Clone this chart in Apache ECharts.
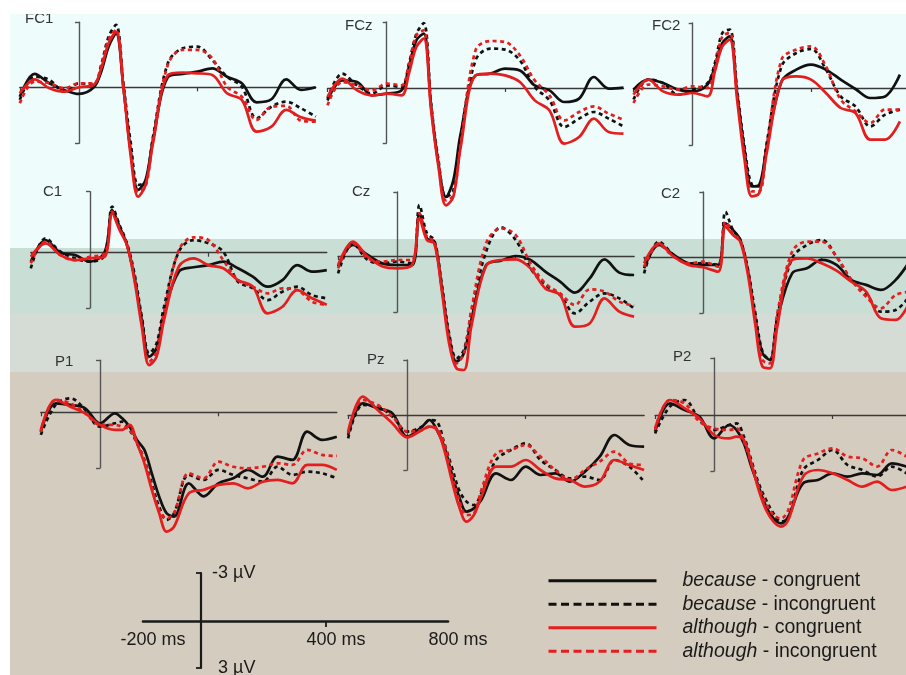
<!DOCTYPE html>
<html><head><meta charset="utf-8">
<script src="https://cdn.jsdelivr.net/npm/echarts@6/dist/echarts.min.js"></script>
<style>
html,body{margin:0;padding:0;background:#fff;}
#wrap{position:relative;width:906px;height:675px;overflow:hidden;background:#fff;}
.bg,.mask{position:absolute;}
#chart{position:absolute;left:0;top:0;width:906px;height:675px;}
</style></head>
<body>
<div id="wrap">
  <div class="bg" style="left:10px;top:14px;width:896px;height:240px;background:#eefcfb"></div>
  <div class="bg" style="left:128px;top:239px;width:778px;height:76px;background:#c9ded5"></div>
  <div class="bg" style="left:10px;top:248px;width:118px;height:67px;background:#c9ded5"></div>
  <div class="bg" style="left:10px;top:314px;width:896px;height:58px;background:#d5dcd6"></div>
  <div class="bg" style="left:10px;top:372px;width:896px;height:303px;background:#d4ccbf"></div>
  <div id="chart"></div>
  <div class="mask" style="left:0;top:0;width:906px;height:14px;background:#fff"></div>
  <div class="mask" style="left:0;top:0;width:10px;height:675px;background:#fff"></div>
</div>
<script>
// ---- data (µV, negative plotted upward) ----
const times = [-200,-150,-100,-50,0,50,75,100,125,150,175,200,225,250,300,350,400,450,500,550,600,650,700,750,800];
const sites = ['FC1','FCz','FC2','C1','Cz','C2','P1','Pz','P2'];
const conditions = ['because - congruent','because - incongruent','although - congruent','although - incongruent'];

const FC1_bc = [0.47,-0.67,-0.2,0.13,0.33,0.0,-0.78,-2.03,-2.7,0.0,3.2,5.13,4.63,2.63,-0.5,-0.67,-0.78,-0.95,-0.53,-0.2,0.75,0.6,-0.4,0.13,0.0];
const FC1_bi = [0.63,-0.53,-0.37,0.22,-0.2,-0.12,-1.12,-2.53,-3.12,-0.2,2.8,4.88,4.72,2.47,-1.2,-1.95,-2.03,-1.37,-0.53,-0.03,1.55,0.97,0.72,1.05,1.47];
const FC1_ac = [0.3,-0.4,0.05,0.22,0.0,-0.12,-0.95,-2.2,-2.78,0.0,3.47,5.47,4.88,2.8,-0.6,-0.73,-0.7,-0.62,0.3,0.63,2.22,1.97,1.13,1.5,1.67];
const FC1_ai = [0.8,-0.28,-0.2,0.05,-0.2,-0.2,-1.03,-2.37,-2.87,0.0,3.3,5.22,4.97,2.63,-1.12,-1.87,-1.87,-1.45,-0.03,0.47,1.63,0.97,0.93,1.67,1.72];

const FCz_bc = [0.62,-0.38,-0.3,0.37,0.28,0.12,-1.05,-2.38,-2.72,0.9,3.78,5.45,4.62,2.28,-0.63,-0.72,-0.97,-0.88,-0.13,0.12,0.7,0.53,-0.55,0.03,-0.02];
const FCz_bi = [0.53,-0.72,-0.13,0.28,-0.13,-0.05,-1.22,-2.7,-3.25,0.78,3.62,5.45,5.12,2.45,-1.38,-1.97,-1.92,-1.38,-0.05,0.62,1.95,1.53,1.2,1.53,1.92];
const FCz_ac = [0.45,-0.47,0.12,0.37,0.28,0.37,-0.72,-2.05,-2.47,1.12,3.95,5.87,5.45,2.95,-0.63,-0.72,-0.63,-0.3,0.62,1.12,2.78,2.45,1.53,2.2,2.28];
const FCz_ai = [0.87,-0.3,-0.13,0.12,-0.22,-0.13,-1.13,-2.63,-2.88,0.95,3.78,5.62,5.37,2.78,-1.88,-2.35,-2.3,-1.63,-0.38,0.37,1.62,1.2,0.92,1.28,1.58];

const FC2_bc = [0.08,-0.42,-0.25,0.08,0.17,-0.17,-1.08,-2.25,-2.58,0.25,3.08,4.92,4.83,2.92,-0.33,-0.92,-1.17,-0.92,-0.42,0.05,0.5,0.42,-0.67,null,null];
const FC2_bi = [0.58,-0.42,-0.25,0.33,0.08,-0.25,-1.25,-2.75,-2.92,0.08,2.92,4.83,4.92,2.75,-1.08,-1.75,-1.95,-0.92,0.42,0.92,1.92,1.33,1.08,null,null];
const FC2_ac = [0.33,-0.42,0.17,0.33,0.25,0.42,-0.83,-2.08,-2.42,0.58,3.58,5.42,5.25,3.25,-0.33,-0.58,-0.42,0.25,1.0,1.25,2.58,2.58,1.67,null,null];
const FC2_ai = [0.75,-0.17,-0.08,0.08,-0.08,0.0,-1.08,-2.58,-2.75,0.33,3.25,5.17,5.17,2.92,-1.42,-1.92,-2.08,-1.08,0.58,1.17,1.75,1.08,1.08,null,null];

const C1_bc = [0.45,-0.63,0.0,0.12,0.45,-0.05,-2.13,-1.3,-0.38,1.2,3.37,5.2,4.78,3.03,0.95,0.73,0.62,0.45,0.78,1.2,1.7,1.37,0.62,0.95,0.87];
const C1_bi = [0.78,-0.72,-0.05,0.28,0.45,0.12,-2.3,-1.38,-0.47,1.03,3.2,5.03,4.53,2.7,-0.05,-0.63,-0.47,-0.05,1.45,1.78,2.37,1.95,1.7,2.12,2.28];
const C1_ac = [0.2,-0.47,0.12,0.37,0.28,0.2,-1.97,-1.13,-0.38,1.37,3.7,5.62,5.2,3.37,0.7,0.28,0.62,0.78,1.37,1.7,3.03,2.7,1.87,2.28,2.6];
const C1_ai = [0.53,-0.55,0.12,0.37,0.2,0.03,-2.05,-1.22,-0.38,1.28,3.53,5.45,4.95,3.03,-0.13,-0.77,-0.63,0.37,1.37,1.7,2.03,1.78,1.87,2.45,2.62];

const Cz_bc = [0.53,-0.55,-0.05,0.37,0.45,0.45,-2.13,-0.88,-0.72,1.53,4.03,5.28,4.87,3.2,0.45,0.23,0.0,0.2,0.78,1.28,1.83,1.12,0.17,0.83,0.95];
const Cz_bi = [0.87,-0.63,0.2,0.37,0.28,0.37,-2.55,-1.13,-0.8,1.37,3.87,5.12,4.7,2.87,-0.22,-1.43,-0.8,0.62,1.45,1.95,2.87,2.28,1.87,2.12,2.62];
const Cz_ac = [0.45,-0.72,0.03,0.53,0.62,0.45,-1.88,-0.8,-0.63,1.7,4.37,5.62,5.7,3.53,0.5,0.2,0.17,0.62,1.62,1.95,3.53,3.37,2.12,2.78,3.03];
const Cz_ai = [0.62,-0.63,0.12,0.28,0.2,0.2,-2.13,-0.97,-0.72,1.53,4.03,5.37,4.87,2.7,-0.63,-1.38,-1.05,0.37,1.37,1.87,2.45,1.67,1.78,2.28,2.5];

const C2_bc = [0.55,-0.62,-0.12,0.3,0.38,0.38,-1.7,-1.37,-0.87,0.63,2.97,4.8,5.13,3.13,0.8,0.55,0.13,0.38,1.13,1.38,1.63,1.13,0.13,null,null];
const C2_bi = [0.8,-0.78,-0.12,0.3,0.3,0.38,-2.28,-1.37,-0.87,0.55,2.72,4.72,5.13,2.97,0.05,-0.62,-0.87,-0.03,1.13,1.8,2.72,2.63,1.88,null,null];
const C2_ac = [0.3,-0.7,-0.03,0.38,0.5,0.72,-1.53,-1.12,-0.78,0.8,3.3,5.47,5.55,3.47,0.13,0.05,0.3,0.67,1.22,1.72,3.05,3.13,2.13,null,null];
const C2_ai = [0.47,-0.62,-0.03,0.3,0.22,0.47,-1.78,-1.2,-0.83,0.63,2.97,5.13,5.3,2.8,-0.28,-0.78,-0.78,-0.03,1.13,1.97,2.55,1.88,1.72,null,null];

const P1_bc = [0.97,-0.45,-0.37,-0.2,0.55,0.05,0.3,0.72,1.38,1.88,3.05,4.22,5.05,5.22,3.55,4.2,3.55,3.3,2.88,3.22,2.22,2.38,0.97,1.38,1.22];
const P1_bi = [1.13,-0.37,-0.7,-0.12,0.72,0.55,0.47,0.88,1.55,2.38,3.55,4.72,5.38,5.05,3.13,3.38,2.88,3.13,3.3,3.47,2.72,3.13,2.97,3.05,3.3];
const P1_ac = [0.88,-0.62,-0.28,0.05,0.63,0.88,0.88,0.63,1.55,2.55,3.88,5.05,5.97,5.72,4.05,3.88,3.63,3.55,3.8,3.47,3.38,3.55,2.63,2.63,2.88];
const P1_ai = [0.97,-0.62,-0.45,0.05,0.63,0.63,0.72,0.88,1.55,2.38,3.72,4.88,5.3,5.05,3.05,3.3,2.47,2.72,2.8,2.72,2.55,2.63,1.88,2.13,2.18];

const Pz_bc = [1.0,-0.58,-0.33,-0.08,1.08,0.58,0.25,0.75,1.58,2.92,4.08,4.83,4.67,4.25,2.92,3.25,2.58,3.0,2.92,3.33,2.83,2.08,1.0,1.5,1.58];
const Pz_bi = [1.17,-0.5,-0.42,0.08,0.83,0.58,0.25,0.33,1.42,2.58,3.75,4.33,4.5,3.92,2.25,1.75,1.42,2.25,2.75,3.17,3.08,3.25,2.25,2.58,3.33];
const Pz_ac = [0.83,-0.92,-0.25,0.42,1.12,0.75,0.58,0.75,1.75,3.25,4.58,5.33,5.0,4.08,2.58,2.58,2.25,2.75,3.17,3.25,3.58,3.33,2.25,2.5,2.75];
const Pz_ai = [0.92,-0.75,-0.5,0.08,0.83,0.75,0.58,0.67,1.42,2.92,4.25,5.0,4.92,3.75,1.92,1.75,1.5,2.08,2.75,3.25,2.75,2.33,1.83,2.42,2.5];

const P2_bc = [0.83,-0.58,-0.25,0.08,1.17,0.5,0.75,1.42,2.58,3.58,4.58,5.17,5.42,5.08,3.42,3.25,2.92,3.08,2.92,3.0,2.42,2.58,null,null,null];
const P2_bi = [0.92,-0.42,-0.75,0.25,0.75,0.5,0.42,1.08,2.25,3.42,4.25,4.92,5.33,5.17,2.75,2.25,1.75,2.5,2.75,3.08,2.58,2.92,null,null,null];
const P2_ac = [0.67,-0.75,-0.33,0.17,1.0,1.17,1.08,1.25,2.42,3.75,4.75,5.33,5.58,5.25,3.08,2.75,2.92,3.25,3.58,3.33,3.75,3.58,null,null,null];
const P2_ai = [0.75,-0.75,-0.58,0.33,0.67,0.75,0.67,1.33,2.42,3.58,4.42,5.0,5.17,4.75,2.25,1.92,1.67,2.08,2.17,2.58,1.75,2.08,null,null,null];

// scale bar ticks
const scaleTimeTicks = [-200, 400, 800];
const scaleVoltTicks = [-3, 3];

// ---- layout (pixels) ----
const PX_MS = 0.296, PX_UV = 20;
const layout = [
  {ax:79,    zy:87.3,  top:-3.25, bot:2.8,  lx:25,  ly:11},
  {ax:386.7, zy:88,    top:-3.3,  bot:2.75, lx:345, ly:18},
  {ax:692.7, zy:88,    top:-3.25, bot:2.85, lx:652, ly:18},
  {ax:90,    zy:252.7, top:-3.05, bot:2.77, lx:43,  ly:184},
  {ax:397.3, zy:256,   top:-3.2,  bot:2.8,  lx:352, ly:184},
  {ax:703.3, zy:257.3, top:-3.27, bot:2.78, lx:661, ly:186},
  {ax:100,   zy:412.3, top:-2.6,  bot:2.78, lx:55,  ly:354},
  {ax:407.3, zy:415,   top:-2.75, bot:2.75, lx:367, ly:352},
  {ax:714.3, zy:415,   top:-2.85, bot:2.8,  lx:673, ly:349}
];
const panelData = [
  [FC1_bc,FC1_bi,FC1_ac,FC1_ai],[FCz_bc,FCz_bi,FCz_ac,FCz_ai],[FC2_bc,FC2_bi,FC2_ac,FC2_ai],
  [C1_bc,C1_bi,C1_ac,C1_ai],[Cz_bc,Cz_bi,Cz_ac,Cz_ai],[C2_bc,C2_bi,C2_ac,C2_ai],
  [P1_bc,P1_bi,P1_ac,P1_ai],[Pz_bc,Pz_bi,Pz_ac,Pz_ai],[P2_bc,P2_bi,P2_ac,P2_ai]
];
const BLACK = '#111111', RED = '#e41e1e';
const styles = [
  {color:BLACK, type:'solid'},
  {color:BLACK, type:[4,3.5]},
  {color:RED,   type:'solid'},
  {color:RED,   type:[4,3.5]}
];
const drawOrder = [1,0,3,2];
const FONT = '"Liberation Sans", Arial, sans-serif';

const grid = [], xAxis = [], yAxis = [], series = [], title = [];
layout.forEach((L, i) => {
  grid.push({left: L.ax - 200*PX_MS, width: 1000*PX_MS, top: L.zy + L.top*PX_UV, height: (L.bot - L.top)*PX_UV,
    containLabel:false, outerBoundsMode:'none'});
  xAxis.push({type:'value', gridIndex:i, min:-200, max:800,
    axisLine:{show:true, onZero:true, lineStyle:{color:'#3a3a3a', width:1.4}},
    axisTick:{show:true, customValues:[-200,400], length:4, lineStyle:{color:'#3a3a3a', width:1.2}},
    axisLabel:{show:false}, splitLine:{show:false}});
  yAxis.push({type:'value', gridIndex:i, inverse:true, min:L.top, max:L.bot,
    axisLine:{show:true, onZero:true, lineStyle:{color:'#555', width:1.4}},
    axisTick:{show:true, customValues:[L.top, L.bot], length:4, lineStyle:{color:'#555', width:1.4}},
    axisLabel:{show:false}, splitLine:{show:false}});
  title.push({text: sites[i], left: L.lx, top: L.ly, padding:0,
    textStyle:{fontFamily:FONT, fontSize:15, fontWeight:'normal', color:'#333', lineHeight:15}});
  drawOrder.forEach(c => {
    const vals = panelData[i][c];
    const data = [];
    times.forEach((t,k) => { if (vals[k] !== null) data.push([t, vals[k]]); });
    series.push({type:'line', name: conditions[c], xAxisIndex:i, yAxisIndex:i, data,
      smooth:0.35, symbol:'none', clip:false, silent:true,
      lineStyle:{color:styles[c].color, width:2.7, type:styles[c].type},
      itemStyle:{color:styles[c].color}});
  });
});

// scale bar: horizontal time bar (grid bottom edge = bar) and vertical voltage bar (grid right edge = bar)
const sh = layout.length, sv = layout.length + 1;
grid.push({left:143, width:305, top:521, height:100, containLabel:false, outerBoundsMode:'none'});
xAxis.push({type:'value', gridIndex:sh, min:-200, max:800, position:'bottom',
  axisLine:{show:true, onZero:false, lineStyle:{color:'#1a1a1a', width:2.6}},
  axisTick:{show:true, customValues:[400], length:6, lineStyle:{color:'#1a1a1a', width:1.8}},
  axisLabel:{show:true, customValues:scaleTimeTicks, formatter: v => v + ' ms', margin:10,
    padding:[0,0,0,20], fontFamily:FONT, fontSize:18, color:'#1a1a1a'},
  splitLine:{show:false}});
yAxis.push({type:'value', gridIndex:sh, min:0, max:1, show:false});

grid.push({left:100, width:101, top:573, height:95, containLabel:false, outerBoundsMode:'none'});
xAxis.push({type:'value', gridIndex:sv, min:0, max:1, show:false});
yAxis.push({type:'value', gridIndex:sv, inverse:true, min:-3, max:3, position:'right',
  axisLine:{show:true, onZero:false, lineStyle:{color:'#1a1a1a', width:2.2}},
  axisTick:{show:true, inside:true, customValues:scaleVoltTicks, length:5, lineStyle:{color:'#1a1a1a', width:1.8}},
  axisLabel:{show:true, inside:false, customValues:scaleVoltTicks, margin:11,
    formatter: v => (v < 0 ? '-3 \u00B5V' : '{p|}3 \u00B5V'), fontFamily:FONT, fontSize:18, color:'#1a1a1a',
    rich:{p:{width:6}}},
  splitLine:{show:false}});

const chart = echarts.init(document.getElementById('chart'), null, {renderer:'canvas'});
chart.setOption({
  animation:false,
  backgroundColor:'transparent',
  title, grid, xAxis, yAxis, series,
  legend:{
    data: conditions.map(n => ({name:n,
      lineStyle:{width:3, type: n.indexOf('incongruent') >= 0 ? [8,4.5] : 'solid'}})),
    orient:'vertical', left:542, top:564, itemWidth:108, itemHeight:12, itemGap:0,
    selectedMode:false, itemStyle:{opacity:0},
    formatter: n => { const p = n.split(' - '); return '{pad|}{it|' + p[0] + '} - ' + p[1]; },
    textStyle:{fontFamily:FONT, fontSize:19.5, color:'#1a1a1a', lineHeight:23.5,
      rich:{pad:{width:21}, it:{fontStyle:'italic', fontFamily:FONT, fontSize:19.5}}}
  }
});
</script>
</body></html>
